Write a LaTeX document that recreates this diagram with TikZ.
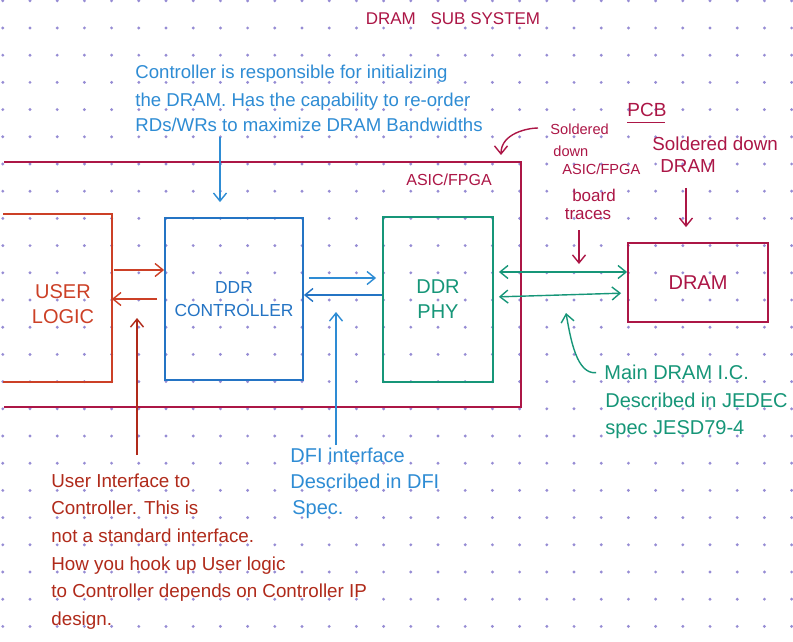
\documentclass[tikz,border=0pt]{standalone}
\usepackage{fontspec}
\setmainfont{Liberation Sans}
\usetikzlibrary{arrows.meta}

\definecolor{pcbred}{RGB}{172,22,70}
\definecolor{ctlblue}{RGB}{36,116,196}
\definecolor{notblue}{RGB}{46,140,212}
\definecolor{phygreen}{RGB}{22,150,120}
\definecolor{ulred}{RGB}{204,64,38}
\definecolor{notred}{RGB}{176,42,26}
\definecolor{dotcol}{RGB}{150,140,212}

\tikzset{
  box/.style={draw,line width=0.9pt,inner sep=0pt,align=center,font=\fontsize{10}{12.5}\selectfont},
  txt/.style={inner sep=0pt,anchor=west,text height=7pt,text depth=0pt},
  wire/.style={->,line width=0.7pt},
}

\begin{document}
\begin{tikzpicture}[x=0.5pt,y=-0.5pt,>={Straight Barb[length=4pt,width=6.5pt]}]

\fill[white] (0,0) rectangle (793,642);
\useasboundingbox (0,0) rectangle (793,642);

% dotted paper
\foreach \i in {0,...,29}
	\foreach \j in {0,...,23}
		\fill[dotcol] (2.8+27.2*\i,0.8+27.2*\j) circle (0.8pt);

% boxes
\node[box,draw=none,minimum width=257.5pt,minimum height=121.5pt] (asic) at (262.5,284.5) {};
\draw[pcbred,line width=0.9pt] (asic.north west) -- (asic.north east) -- (asic.south east) -- (asic.south west);
\node[box,draw=none,minimum width=53.5pt,minimum height=83pt] (ul) at (57.5,298) {};
\draw[ulred,line width=0.9pt] (ul.north west) -- (ul.north east) -- (ul.south east) -- (ul.south west);
\node[box,ulred,draw=none] (ult) at (63,304) {USER\\LOGIC};
\node[box,ctlblue,minimum width=69pt,minimum height=81pt,font=\fontsize{8.7}{11.5}\selectfont] (ctl) at (234,299) {DDR\\CONTROLLER};
\node[box,phygreen,minimum width=55pt,minimum height=82.5pt] (phy) at (438,299.5) {DDR\\PHY};
\node[box,pcbred,minimum width=70pt,minimum height=39.5pt] (dram) at (698,282.5) {DRAM};

% labels
\node[txt,pcbred,anchor=center,font=\fontsize{8.5}{10}\selectfont] (ttl) at (453,18) {DRAM\hspace{5pt} SUB SYSTEM};
\node[txt,pcbred,anchor=center,font=\fontsize{8}{10}\selectfont] (lbl) at (449,178) {ASIC/FPGA};
\node[txt,pcbred,anchor=center,font=\fontsize{9.5}{10}\selectfont] (pcb) at (647,110) {PCB};
\draw[pcbred,line width=0.7pt] ([yshift=-2.5pt]pcb.south west) -- ([yshift=-2.5pt,xshift=-1pt]pcb.south east);

\node[txt,notblue,font=\fontsize{9.3}{12}\selectfont] (c1) at (135,72) {Controller is responsible for initializing};
\node[txt,notblue,font=\fontsize{9.3}{12}\selectfont] (c2) at (135,100) {the DRAM. Has the capability to re-order};
\node[txt,notblue,font=\fontsize{9.3}{12}\selectfont] (c3) at (135,125) {RDs/WRs to maximize DRAM Bandwidths};

\node[txt,pcbred,font=\fontsize{7.3}{9}\selectfont] (s1) at (550,128) {Soldered};
\node[txt,pcbred,font=\fontsize{7.3}{9}\selectfont] (s2) at (553,149) {down};
\node[txt,pcbred,font=\fontsize{7.3}{9}\selectfont] (s3) at (562,168) {ASIC/FPGA};
\node[txt,pcbred,font=\fontsize{9.4}{11}\selectfont] (s4) at (652,144) {Soldered down};
\node[txt,pcbred,font=\fontsize{9.4}{11}\selectfont] (s5) at (660,165) {DRAM};
\node[txt,pcbred,anchor=center,font=\fontsize{8.5}{10}\selectfont] (b1) at (594,195) {board};
\node[txt,pcbred,anchor=center,font=\fontsize{8.5}{10}\selectfont] (b2) at (588,213) {traces};

\node[txt,phygreen,font=\fontsize{10}{12}\selectfont] (j1) at (604,372) {Main DRAM I.C.};
\node[txt,phygreen,font=\fontsize{10}{12}\selectfont] (j2) at (605,400) {Described in JEDEC};
\node[txt,phygreen,font=\fontsize{10}{12}\selectfont] (j3) at (605,427) {spec JESD79-4};

\node[txt,notblue,font=\fontsize{10}{12}\selectfont] (d1) at (290,455) {DFI interface};
\node[txt,notblue,font=\fontsize{10}{12}\selectfont] (d2) at (290,481) {Described in DFI};
\node[txt,notblue,font=\fontsize{10}{12}\selectfont] (d3) at (292,507) {Spec.};

\node[txt,notred,font=\fontsize{9.4}{12}\selectfont] (u1) at (51,480) {User Interface to};
\node[txt,notred,font=\fontsize{9.4}{12}\selectfont] (u2) at (51,507) {Controller. This is};
\node[txt,notred,font=\fontsize{9.4}{12}\selectfont] (u3) at (51,535) {not a standard interface.};
\node[txt,notred,font=\fontsize{9.4}{12}\selectfont] (u4) at (51,563) {How you hook up User logic};
\node[txt,notred,font=\fontsize{9.4}{12}\selectfont] (u5) at (51,590) {to Controller depends on Controller IP};
\node[txt,notred,font=\fontsize{9.4}{12}\selectfont] (u6) at (51,618) {design.};

% interfaces
\coordinate (y1) at (0,270);
\coordinate (y2) at (0,299);
\coordinate (y3) at (0,278);
\coordinate (y4) at (0,295);
\coordinate (y5) at (0,272);
\coordinate (y6) at (0,297);
\coordinate (y7) at (0,293);

\draw[wire,ulred,shorten <=1pt] (ul.east |- y1) -- (ctl.west |- y1);
\draw[wire,ulred,shorten <=3.5pt] (ctl.west |- y2) -- (ul.east |- y2);
\draw[wire,notblue,shorten <=2.5pt,shorten >=3pt] (ctl.east |- y3) -- (phy.west |- y3);
\draw[wire,ctlblue] (phy.west |- y4) -- (ctl.east |- y4);
\draw[wire,<->,phygreen,shorten <=2.5pt] (phy.east |- y5) -- (dram.west |- y5);
\draw[wire,<->,phygreen,shorten <=2.5pt,shorten >=3pt] (phy.east |- y6) -- (dram.west |- y7);

% pointers from the notes
\coordinate (n1) at (220,137);
\coordinate (n2) at (137,455);
\coordinate (n3) at (137,318);
\coordinate (n4) at (336,445);
\coordinate (n5) at (336,312);
\coordinate (n6) at (579,230);
\coordinate (n7) at (579,264);
\coordinate (n8) at (686,188);
\coordinate (n9) at (501,155);
\coordinate (n10) at (566,313);

\draw[wire,notblue,shorten >=7.5pt] (n1) -- (n1 |- ctl.north);
\draw[wire,notred] (n2) -- (n3);
\draw[wire,notblue] (n4) -- (n5);
\draw[wire,pcbred] (n6) -- (n7);
\draw[wire,pcbred,shorten >=7.5pt] (n8) -- (n8 |- dram.north);
\draw[wire,pcbred,shorten <=6pt] (s1.west) to[out=180,in=90] (n9);
\draw[wire,phygreen,shorten <=4pt] (j1.west) to[out=185,in=-80] (n10);

\end{tikzpicture}
\end{document}
